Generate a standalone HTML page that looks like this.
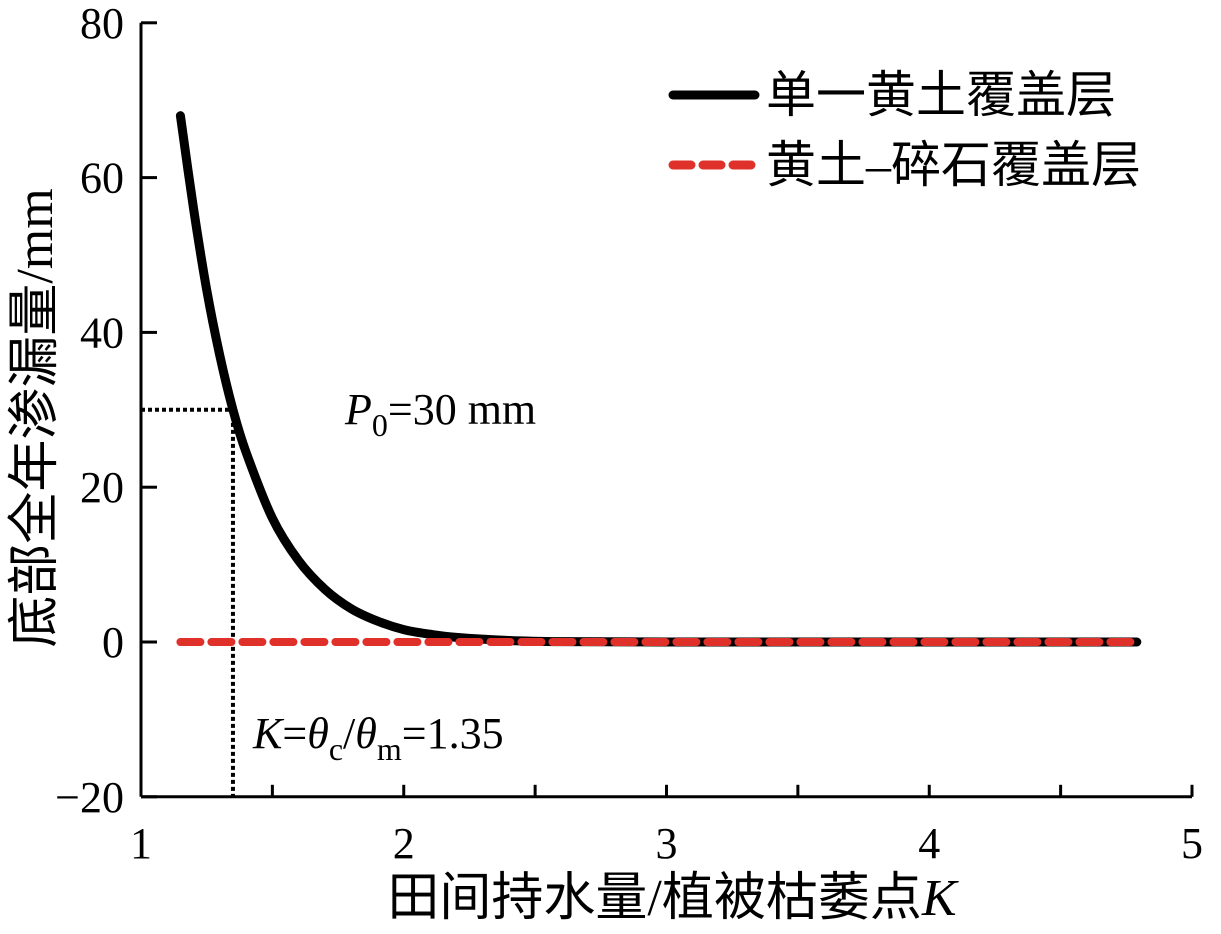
<!DOCTYPE html>
<html><head><meta charset="utf-8"><style>
html,body{margin:0;padding:0;background:#fff;}
svg text{font-family:"Liberation Serif","Noto Serif CJK SC",serif;}
.cjk{font-family:"Liberation Serif","Noto Sans CJK SC",sans-serif;}
</style></head><body>
<svg id="chart" width="1221" height="929" viewBox="0 0 1221 929">
<g id="axes"></g>
<g id="marks"></g>
<g>
  <line x1="673" y1="95" x2="755" y2="95" stroke="#000" stroke-width="9" stroke-linecap="round"/>
  <text x="766" y="112" font-size="50" class="cjk">单一黄土覆盖层</text>
  <line x1="673" y1="165" x2="755" y2="165" stroke="#e0302a" stroke-width="9" stroke-dasharray="18 12" stroke-linecap="round"/>
  <text x="766" y="182" font-size="50" class="cjk">黄土–碎石覆盖层</text>
</g>
<text x="345" y="424" font-size="44"><tspan font-style="italic">P</tspan><tspan font-size="32" dy="12">0</tspan><tspan dy="-12">=30 mm</tspan></text>
<text x="253" y="748" font-size="44"><tspan font-style="italic">K</tspan>=<tspan font-style="italic">θ</tspan><tspan font-size="32" dy="12">c</tspan><tspan dy="-12">/</tspan><tspan font-style="italic">θ</tspan><tspan font-size="32" dy="12">m</tspan><tspan dy="-12">=1.35</tspan></text>
<text x="672" y="915" font-size="52" text-anchor="middle" class="cjk">田间持水量/植被枯萎点<tspan font-style="italic" font-family="Liberation Serif">K</tspan></text>
<text transform="translate(52,418) rotate(-90)" font-size="52" text-anchor="middle" class="cjk">底部全年渗漏量/mm</text>
</svg>
<script>
const xTicks=[1,2,3,4,5];
const yTicks=[-20,0,20,40,60,80];
const kValues=[1.15,1.2,1.25,1.3,1.35,1.4,1.5,1.6,1.7,1.8,1.9,2.0,2.1,2.2,2.4,2.6,3.0,3.5,4.0,4.5,4.79];
const loessValues=[68,56,45.5,37,30,24.5,16,10.5,6.8,4.3,2.7,1.6,1.0,0.6,0.2,0.05,0,0,0,0,0];
const gravelK=[1.15,4.79];
const gravelValues=[0,0];
const threshK=1.35, threshP=30;
const NS="http://www.w3.org/2000/svg";
const X=v=>141+(v-1)*262.75;
const Y=v=>642-v*7.74;
function mk(tag,attrs,parent){const e=document.createElementNS(NS,tag);for(const k in attrs)e.setAttribute(k,attrs[k]);parent.appendChild(e);return e;}
function smooth(pts){let d='M'+pts[0][0]+' '+pts[0][1];for(let i=0;i<pts.length-1;i++){const p0=pts[i-1]||pts[i],p1=pts[i],p2=pts[i+1],p3=pts[i+2]||p2;
const c1=[p1[0]+(p2[0]-p0[0])/6,p1[1]+(p2[1]-p0[1])/6],c2=[p2[0]-(p3[0]-p1[0])/6,p2[1]-(p3[1]-p1[1])/6];
d+=` C${c1[0]} ${c1[1]} ${c2[0]} ${c2[1]} ${p2[0]} ${p2[1]}`;}return d;}
const axes=document.getElementById('axes'), marks=document.getElementById('marks');
let a=mk('line',{x1:X(1),y1:Y(-20),x2:X(5),y2:Y(-20),stroke:'#000','stroke-width':3},axes);


a=mk('line',{x1:X(1),y1:Y(-20),x2:X(1),y2:Y(80),stroke:'#000','stroke-width':3},axes);


for(let i=0;i<xTicks.length;i++){
  const t=xTicks[i];
  if(t>1){let l=mk('line',{x1:X(t),y1:Y(-20),x2:X(t),y2:Y(-20)-12,stroke:'#000','stroke-width':3},axes);
  
  }
  if(t<5){let l=mk('line',{x1:X(t+0.5),y1:Y(-20),x2:X(t+0.5),y2:Y(-20)-12,stroke:'#000','stroke-width':3},axes);
  
  }
  let tx=mk('text',{x:X(t),y:858,'font-size':44,'text-anchor':'middle'},axes);tx.textContent=t;
  
  
}
for(const t of yTicks){
  let l=mk('line',{x1:X(1),y1:Y(t),x2:X(1)+16,y2:Y(t),stroke:'#000','stroke-width':3},axes);
  
  
  let tx=mk('text',{x:124,y:Y(t)+15,'font-size':44,'text-anchor':'end'},axes);tx.textContent=t<0?'−'+(-t):t;
  
  
}
let d=mk('path',{d:`M${X(1)} ${Y(threshP)} H${X(threshK)} V${Y(-20)}`,fill:'none',stroke:'#000','stroke-width':4,'stroke-dasharray':'4 3'},marks);


let p=mk('path',{d:smooth(kValues.map((k,i)=>[X(k),Y(loessValues[i])])),fill:'none',stroke:'#000','stroke-width':9,'stroke-linejoin':'round','stroke-linecap':'round'},marks);


let g=mk('path',{d:gravelK.map((k,i)=>(i?'L':'M')+X(k)+' '+Y(gravelValues[i])).join(' '),fill:'none',stroke:'#e0302a','stroke-width':8,'stroke-dasharray':'20 11','stroke-linecap':'round'},marks);


</script>
</body></html>
